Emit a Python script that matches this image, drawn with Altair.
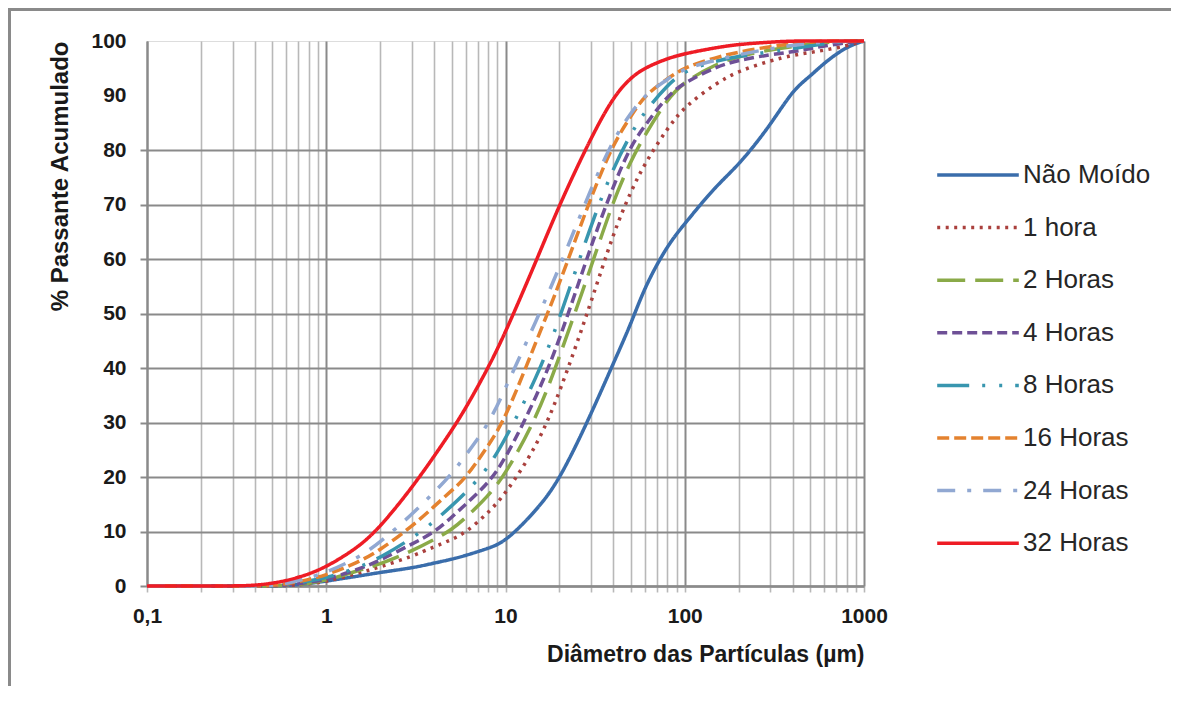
import altair as alt
import pandas as pd

# ---------------- data ----------------
diametros = [0.1, 0.2, 0.3, 0.4, 0.5, 0.6, 0.7, 0.8, 1, 1.5, 2, 3, 4, 5, 6, 8, 10,
             15, 20, 30, 40, 50, 60, 80, 100, 150, 200, 300, 400, 500, 600, 800, 1000]

nao_moido = [0, 0, 0, 0, 0, 0.1, 0.25, 0.45, 0.9, 1.8, 2.5, 3.3, 4.2, 4.9, 5.6, 6.9, 8.1,
             14.0, 19.4, 31.5, 40.9, 48.0, 55, 62.5, 66.5, 73.5, 77.2, 84.5, 91, 93.5, 96, 99, 100]
h1 = [0, 0, 0, 0, 0, 0.1, 0.25, 0.4, 0.8, 2.3, 3.5, 5.4, 7.2, 8.5, 9.8, 13.4, 16.9,
      25.7, 35.3, 52, 64.8, 72.4, 77.6, 84, 88, 92.3, 94.5, 96.4, 97.4, 97.9, 98.3, 99.1, 100]
h2 = [0, 0, 0, 0, 0, 0.1, 0.3, 0.5, 1.0, 2.8, 4.0, 6.4, 8.5, 10.3, 12.5, 16.5, 20.5,
      31, 42, 58.5, 70.8, 78, 82.8, 89.4, 92.6, 95.8, 97.2, 98.4, 99, 99.4, 99.7, 100, 100]
h4 = [0, 0, 0, 0, 0, 0.2, 0.4, 0.7, 1.2, 3.0, 4.7, 7.7, 9.8, 12.6, 15, 18.8, 23.3,
      34.9, 45, 62.5, 73.5, 80.8, 84.5, 90, 92.4, 95.3, 96.5, 97.5, 98, 98.6, 99.1, 99.7, 100]
h8 = [0, 0, 0, 0, 0, 0.3, 0.6, 0.9, 1.5, 3.3, 5.2, 8.7, 11.8, 14.7, 17.1, 21.6, 27,
      38.3, 48.9, 66.4, 76.8, 83, 87.1, 91.9, 94.6, 96.4, 97.2, 98, 98.6, 99.1, 99.5, 100, 100]
h16 = [0, 0, 0, 0, 0.1, 0.4, 0.8, 1.2, 2.0, 4.3, 6.6, 10.9, 14.6, 17.5, 19.8, 25.7, 30.7,
       45.3, 55.4, 71.5, 81.2, 86.2, 90.1, 93.1, 95.2, 97, 98, 99, 99.5, 99.8, 100, 100, 100]
h24 = [0, 0, 0, 0, 0.1, 0.5, 1.0, 1.5, 2.5, 5.1, 8.0, 13.1, 17.2, 20.5, 24, 29.5, 36.3,
       49, 58.4, 73, 82, 86.8, 90.1, 93, 95, 96.5, 97.5, 98.6, 99.2, 99.6, 99.8, 100, 100]
h32 = [0, 0, 0, 0.1, 0.5, 1.0, 1.6, 2.2, 3.5, 7.0, 10.8, 18.0, 23.8, 28.5, 32.6, 40.0, 46.5,
       60.0, 70.0, 82.3, 89.8, 93.3, 95.1, 96.8, 97.7, 98.8, 99.4, 99.8, 100, 100, 100, 100, 100]

series_names = ["Não Moído", "1 hora", "2 Horas", "4 Horas", "8 Horas",
                "16 Horas", "24 Horas", "32 Horas"]
series_values = [nao_moido, h1, h2, h4, h8, h16, h24, h32]
series_colors = ["#3A6DAB", "#AA403D", "#8AAA48", "#6E5096",
                 "#3896AF", "#E4822F", "#91A8D2", "#EE1C25"]
series_dashes = [[1, 0], [3, 5.5], [28, 10], [10, 5], [32, 13, 3, 14, 3, 13],
                 [12, 5], [18, 12, 4, 12], [1, 0]]

x_tick_values = [round(m * 10 ** e, 4) for e in range(-1, 3) for m in range(1, 10)] + [1000]
y_tick_values = list(range(0, 101, 10))

rows = []
for name, vals in zip(series_names, series_values):
    for d, v in zip(diametros, vals):
        rows.append({"d": d, "v": v, "serie": name})
df = pd.DataFrame(rows)

GRID_DARK = "#8a8a8a"
GRID_LIGHT = "#b8b8b8"
FONT = "Liberation Sans"

major_test = "indexof([0.1, 1, 10, 100, 1000], datum.value) >= 0"

legend = alt.Legend(
    title=None, orient="none", legendX=805, legendY=108,
    symbolType="M-1.7,0H1.7", symbolSize=2304, symbolStrokeWidth=3.5,
    labelFont=FONT, labelFontSize=26, labelColor="#262626",
    labelOffset=19, rowPadding=13.6, padding=0,
)

lines = alt.Chart(df).mark_line(strokeWidth=3.5, interpolate="basis").encode(
    x=alt.X(
        "d:Q",
        scale=alt.Scale(type="log", domain=[0.1, 1000], nice=False),
        axis=alt.Axis(
            values=x_tick_values,
            labelExpr="datum.value == 0.1 ? '0,1' : (indexof([1, 10, 100, 1000], datum.value) >= 0 ? toString(datum.value) : '')",
            labelOverlap=False, labelFlush=False,
            labelFont=FONT, labelFontSize=21, labelFontWeight="bold", labelColor="#1a1a1a",
            labelPadding=13,
            grid=True,
            gridColor={"condition": {"test": major_test, "value": GRID_DARK}, "value": GRID_LIGHT},
            gridWidth={"condition": {"test": major_test, "value": 2}, "value": 1.6},
            ticks=True, tickSize=6, tickColor=GRID_LIGHT, tickWidth=1.6,
            domainColor=GRID_DARK, domainWidth=2.5,
            title="Diâmetro das Partículas (µm)", titleAnchor="end",
            titleFont=FONT, titleFontSize=23, titleFontWeight="bold", titleColor="#1a1a1a",
            titlePadding=17,
        ),
    ),
    y=alt.Y(
        "v:Q",
        scale=alt.Scale(domain=[0, 100], nice=False),
        axis=alt.Axis(
            values=y_tick_values,
            labelFont=FONT, labelFontSize=21, labelFontWeight="bold", labelColor="#1a1a1a",
            labelPadding=14,
            grid=True, gridColor=GRID_DARK, gridWidth=2,
            gridOpacity={"condition": {"test": "datum.value > 80", "value": 0}, "value": 1},
            ticks=True, tickSize=7, tickColor=GRID_DARK, tickWidth=2,
            tickOpacity={"condition": {"test": "datum.value > 80", "value": 0}, "value": 1},
            domainColor=GRID_DARK, domainWidth=2,
            title="% Passante Acumulado", titleAnchor="end",
            titleFont=FONT, titleFontSize=24, titleFontWeight="bold", titleColor="#1a1a1a",
            titlePadding=18,
        ),
    ),
    color=alt.Color("serie:N", scale=alt.Scale(domain=series_names, range=series_colors),
                    legend=legend),
    strokeDash=alt.StrokeDash("serie:N", scale=alt.Scale(domain=series_names, range=series_dashes),
                              legend=legend),
    order=alt.Order("d:Q"),
)

frame_top = alt.Chart(df).mark_rule(color=GRID_DARK, strokeWidth=3).encode(
    x=alt.value(-139), x2=alt.value(1024), y=alt.value(-31.5)
)
frame_left = alt.Chart(df).mark_rule(color=GRID_DARK, strokeWidth=3).encode(
    x=alt.value(-137.5), y=alt.value(-33), y2=alt.value(645)
)

chart = alt.layer(frame_top, frame_left, lines).properties(
    width=717, height=545,
    autosize=alt.AutoSizeParams(type="none"),
    padding={"left": 139, "top": 33, "right": 307, "bottom": 100},
).configure_view(stroke=None).configure(background="white")

chart.save("out.html", embed_options={"renderer": "svg", "actions": False})
